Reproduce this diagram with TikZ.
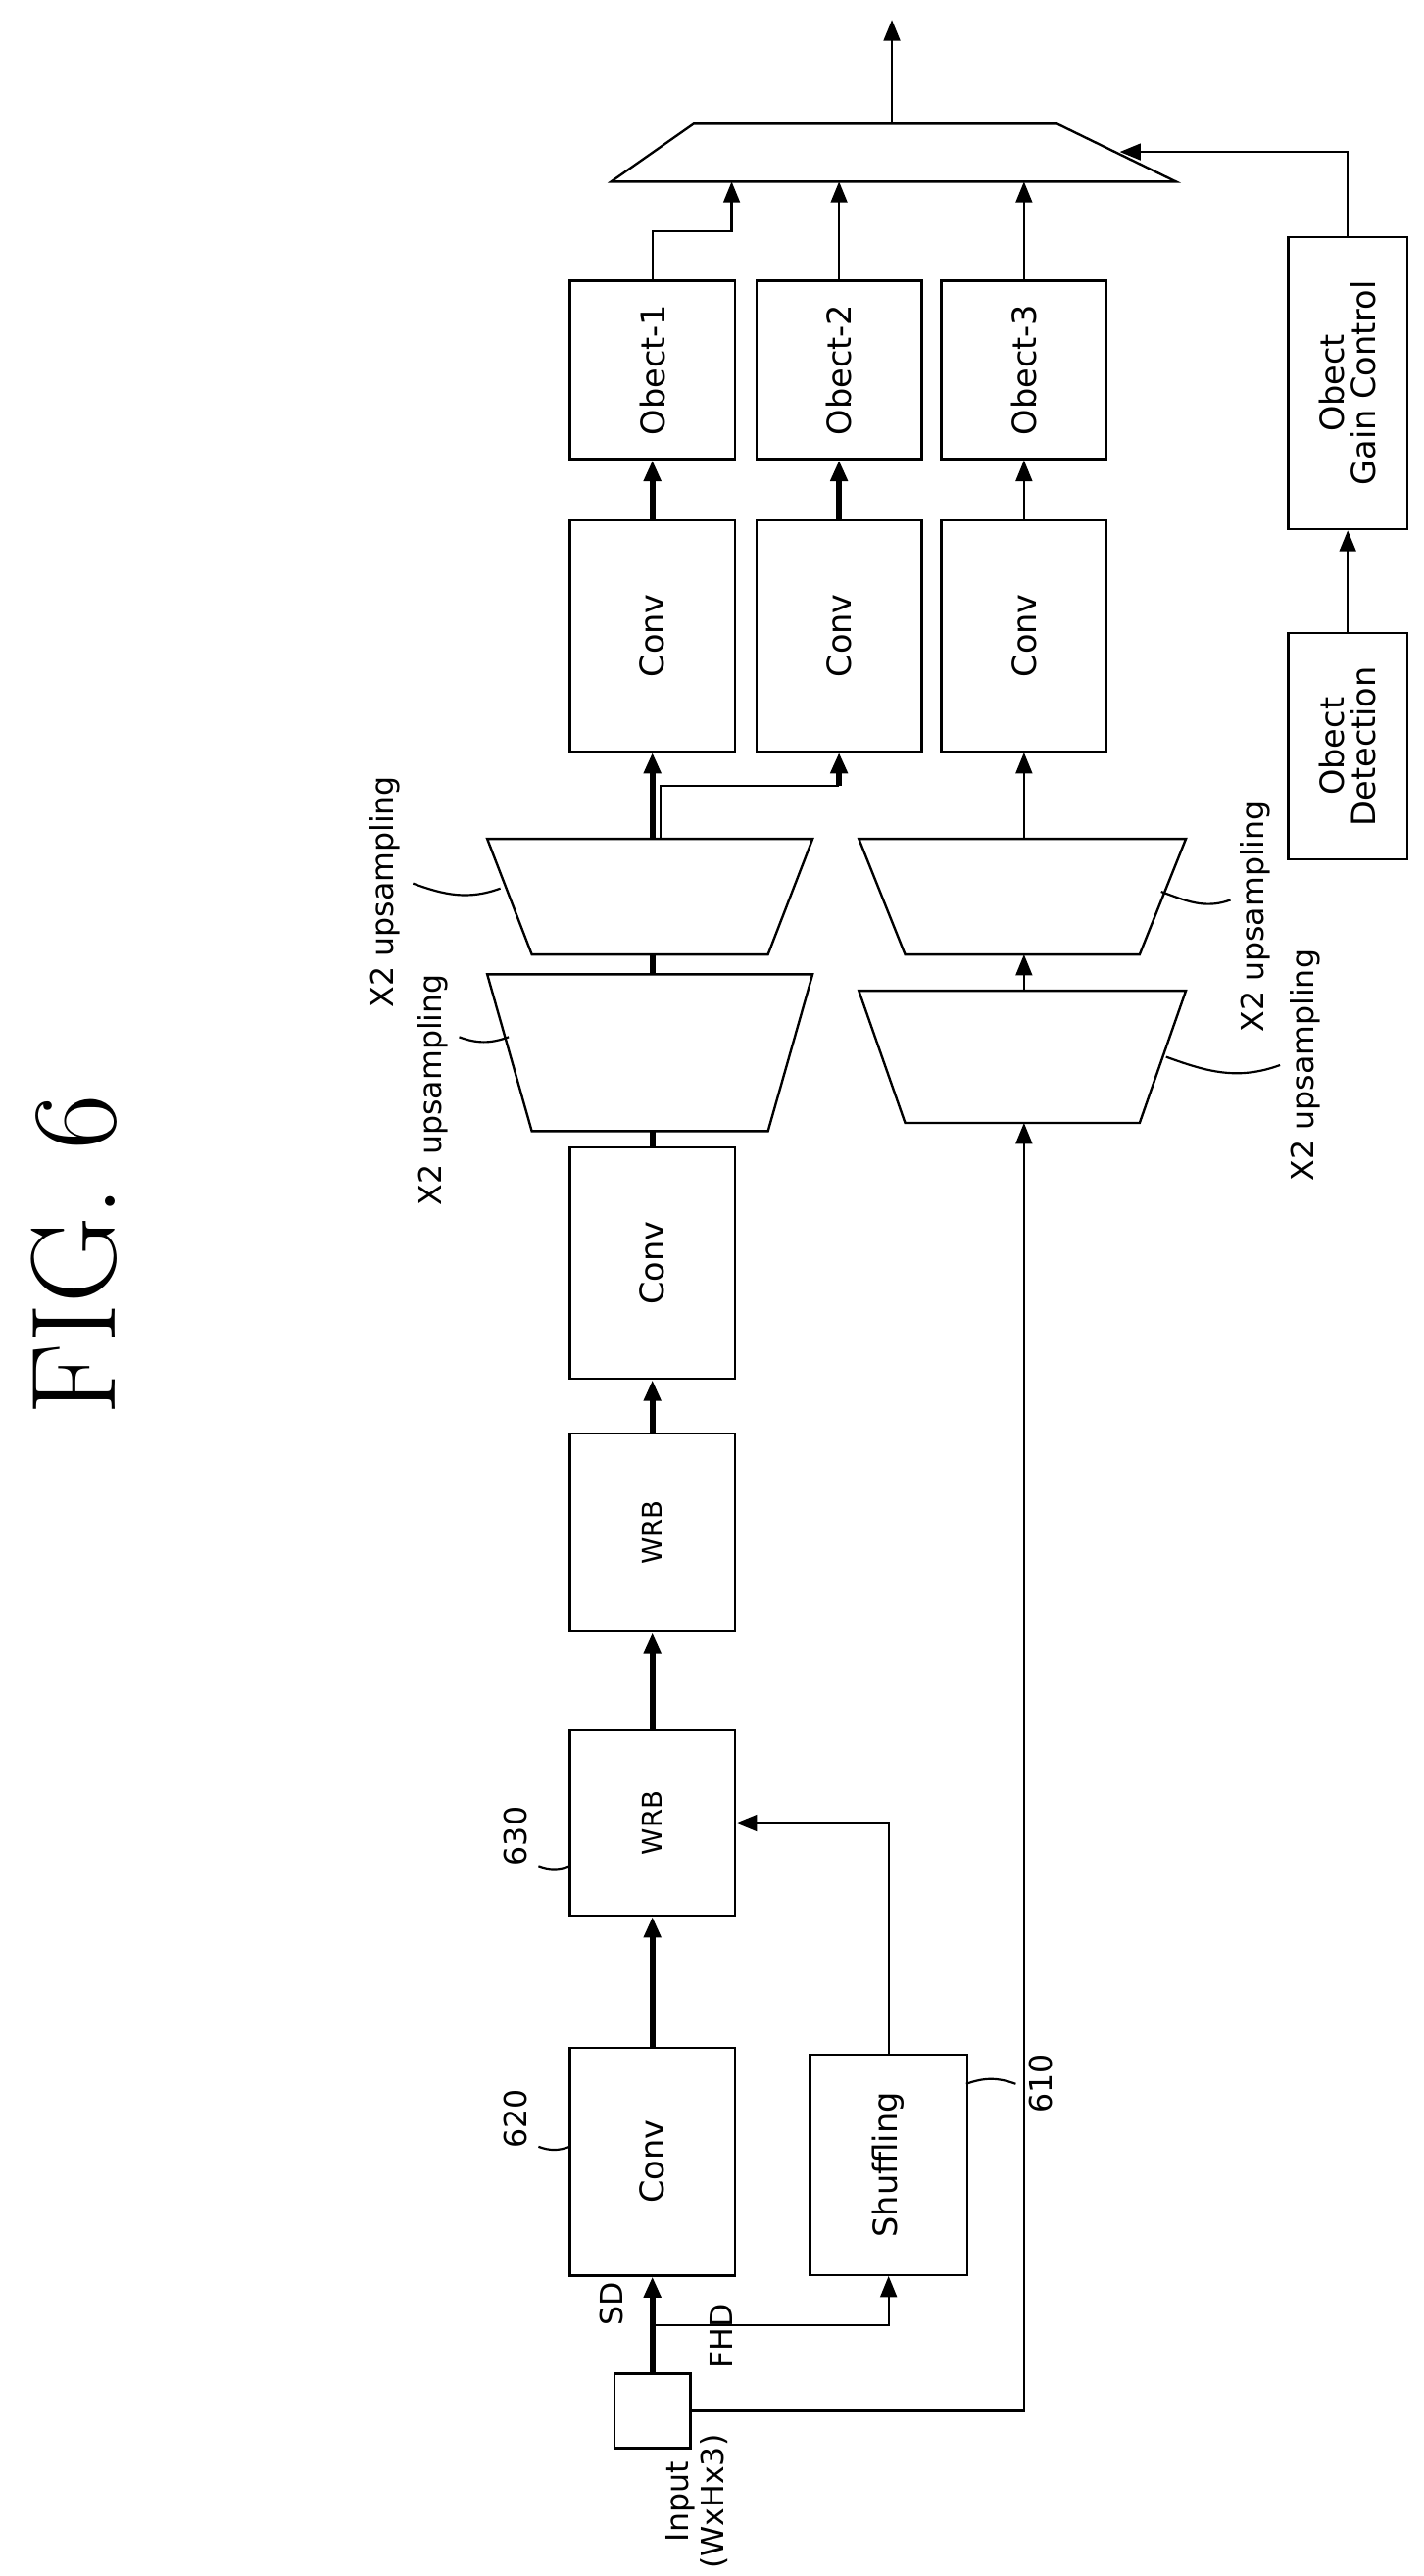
\documentclass[tikz,border=0pt]{standalone}
\usepackage{fontspec}
\setsansfont{DejaVu Sans}
\usetikzlibrary{positioning,arrows.meta}

\tikzset{
  box/.style={draw, line width=1.2pt, inner sep=0pt, minimum width=3cm, font=\sffamily\fontsize{17}{20}\selectfont},
  lbl/.style={inner sep=1pt, font=\sffamily\fontsize{16}{19}\selectfont},
  bus/.style={line width=3pt},
  wire/.style={line width=1.1pt},
  tip/.style={-{Triangle[length=0.38cm,width=0.3cm]}},
}

\begin{document}
\begin{tikzpicture}[x=0.03cm, y=-0.03cm]
\useasboundingbox (0,0) rectangle (862,1560);

% title
\node[font=\fontsize{62}{70}\selectfont] (title) at (45,760) {\rotatebox{90}{FIG. 6}};

% main chain
\node[box, minimum width=1.38cm, minimum height=1.35cm] (inp) at (395,1460) {};
\node[lbl, align=center] (inlbl) at (422,1515) {\rotatebox{90}{\shortstack{Input\\(WxHx3)}}};
\node[box, minimum height=4.14cm] (conv620) at (395,1309) {\rotatebox{90}{Conv}};
\node[box, minimum width=2.85cm, minimum height=4cm] (shuf) at (538,1311) {\rotatebox{90}{Shuffling}};
\node[box, minimum height=3.36cm, font=\sffamily\fontsize{14}{16}\selectfont] (wrb630) at (395,1104) {\rotatebox{90}{WRB}};
\node[box, minimum height=3.6cm, font=\sffamily\fontsize{14}{16}\selectfont] (wrb) at (395,928) {\rotatebox{90}{WRB}};
\node[box, minimum height=4.2cm] (conv) at (395,765) {\rotatebox{90}{Conv}};

% upsampling trapezoids
\draw[line width=1.2pt] (295,590) -- (492,590) -- (465,685) -- (322,685) -- cycle;
\draw[line width=1.2pt] (295,508) -- (492,508) -- (465,578) -- (322,578) -- cycle;
\draw[line width=1.2pt] (520,600) -- (718,600) -- (690,680) -- (548,680) -- cycle;
\draw[line width=1.2pt] (520,508) -- (718,508) -- (690,578) -- (548,578) -- cycle;
\coordinate (upAbot) at (395,685); \coordinate (upAtop) at (395,590);
\coordinate (upBbot) at (395,578); \coordinate (upBtop) at (395,508);
\coordinate (upCbot) at (620,680); \coordinate (upCtop) at (620,600);
\coordinate (upDbot) at (620,578); \coordinate (upDtop) at (620,508);

% heads
\node[box, minimum height=4.2cm] (conv1) at (395,385) {\rotatebox{90}{Conv}};
\node[box, minimum height=4.2cm] (conv2) at (508,385) {\rotatebox{90}{Conv}};
\node[box, minimum height=4.2cm] (conv3) at (620,385) {\rotatebox{90}{Conv}};
\node[box, minimum height=3.24cm] (obj1) at (395,224) {\rotatebox{90}{Obect-1}};
\node[box, minimum height=3.24cm] (obj2) at (508,224) {\rotatebox{90}{Obect-2}};
\node[box, minimum height=3.24cm] (obj3) at (620,224) {\rotatebox{90}{Obect-3}};
\node[box, minimum width=2.16cm, minimum height=4.11cm] (det) at (816,452) {\rotatebox{90}{\shortstack{Obect\\Detection}}};
\node[box, minimum width=2.16cm, minimum height=5.31cm] (gain) at (816,232) {\rotatebox{90}{\shortstack{Obect\\Gain Control}}};

% combiner
\draw[line width=1.2pt] (420,75) -- (640,75) -- (712,110) -- (370,110) -- cycle;
\coordinate (mixin1) at (443,110); \coordinate (mixin2) at (508,110);
\coordinate (mixin3) at (620,110); \coordinate (mixside) at (678,92);
\coordinate (mixtop) at (540,75); \coordinate (out) at (540,12);

% connectors
\draw[bus, tip] (inp.north) -- (conv620.south);
\draw[wire, tip] (395,1408) -| (shuf.south);
\draw[wire, tip] (shuf.north) |- (wrb630.east);
\draw[bus, tip] (conv620.north) -- (wrb630.south);
\draw[bus, tip] (wrb630.north) -- (wrb.south);
\draw[bus, tip] (wrb.north) -- (conv.south);
\draw[bus] (conv.north) -- (upAbot);
\draw[bus] (upAtop) -- (upBbot);
\draw[bus, tip] (upBtop) -- (conv1.south);
\draw[wire] (400,508) |- (508,476);
\draw[bus, tip] (508,476) -- (conv2.south);
\draw[wire, tip] (inp.east) -| (upCbot);
\draw[wire, tip] (upCtop) -- (upDbot);
\draw[wire, tip] (upDtop) -- (conv3.south);
\draw[bus, tip] (conv1.north) -- (obj1.south);
\draw[bus, tip] (conv2.north) -- (obj2.south);
\draw[wire, tip] (conv3.north) -- (obj3.south);
\draw[wire, tip] (obj1.north) |- (443,140) -- (mixin1);
\draw[wire, tip] (obj2.north) -- (mixin2);
\draw[wire, tip] (obj3.north) -- (mixin3);
\draw[wire, tip] (det.north) -- (gain.south);
\draw[wire, tip] (gain.north) |- (mixside);
\draw[wire, tip] (mixtop) -- (out);

% labels
\node[lbl] (sd) at (370,1395) {\rotatebox{90}{SD}};
\node[lbl] (fhd) at (437,1415) {\rotatebox{90}{FHD}};
\node[lbl] (l620) at (312,1283) {\rotatebox{90}{620}};
\node[lbl] (l630) at (312,1112) {\rotatebox{90}{630}};
\node[lbl] (l610) at (630,1262) {\rotatebox{90}{610}};
\draw[wire] (326,1300) to[out=-20,in=200] (345,1300);
\draw[wire] (326,1130) to[out=-20,in=200] (345,1130);
\draw[wire] (585,1262) to[out=20,in=160] (615,1262);
\node[lbl] (upAl) at (262,660) {\rotatebox{90}{X2 upsampling}};
\node[lbl] (upBl) at (233,540) {\rotatebox{90}{X2 upsampling}};
\node[lbl] (upCl) at (760,555) {\rotatebox{90}{X2 upsampling}};
\node[lbl] (upDl) at (790,645) {\rotatebox{90}{X2 upsampling}};
\draw[wire] (278,628) to[out=-20,in=200] (308,628);
\draw[wire] (250,535) to[out=-20,in=200] (303,538);
\draw[wire] (703,540) to[out=-20,in=200] (745,545);
\draw[wire] (706,640) to[out=-20,in=200] (775,645);
\end{tikzpicture}
\end{document}
